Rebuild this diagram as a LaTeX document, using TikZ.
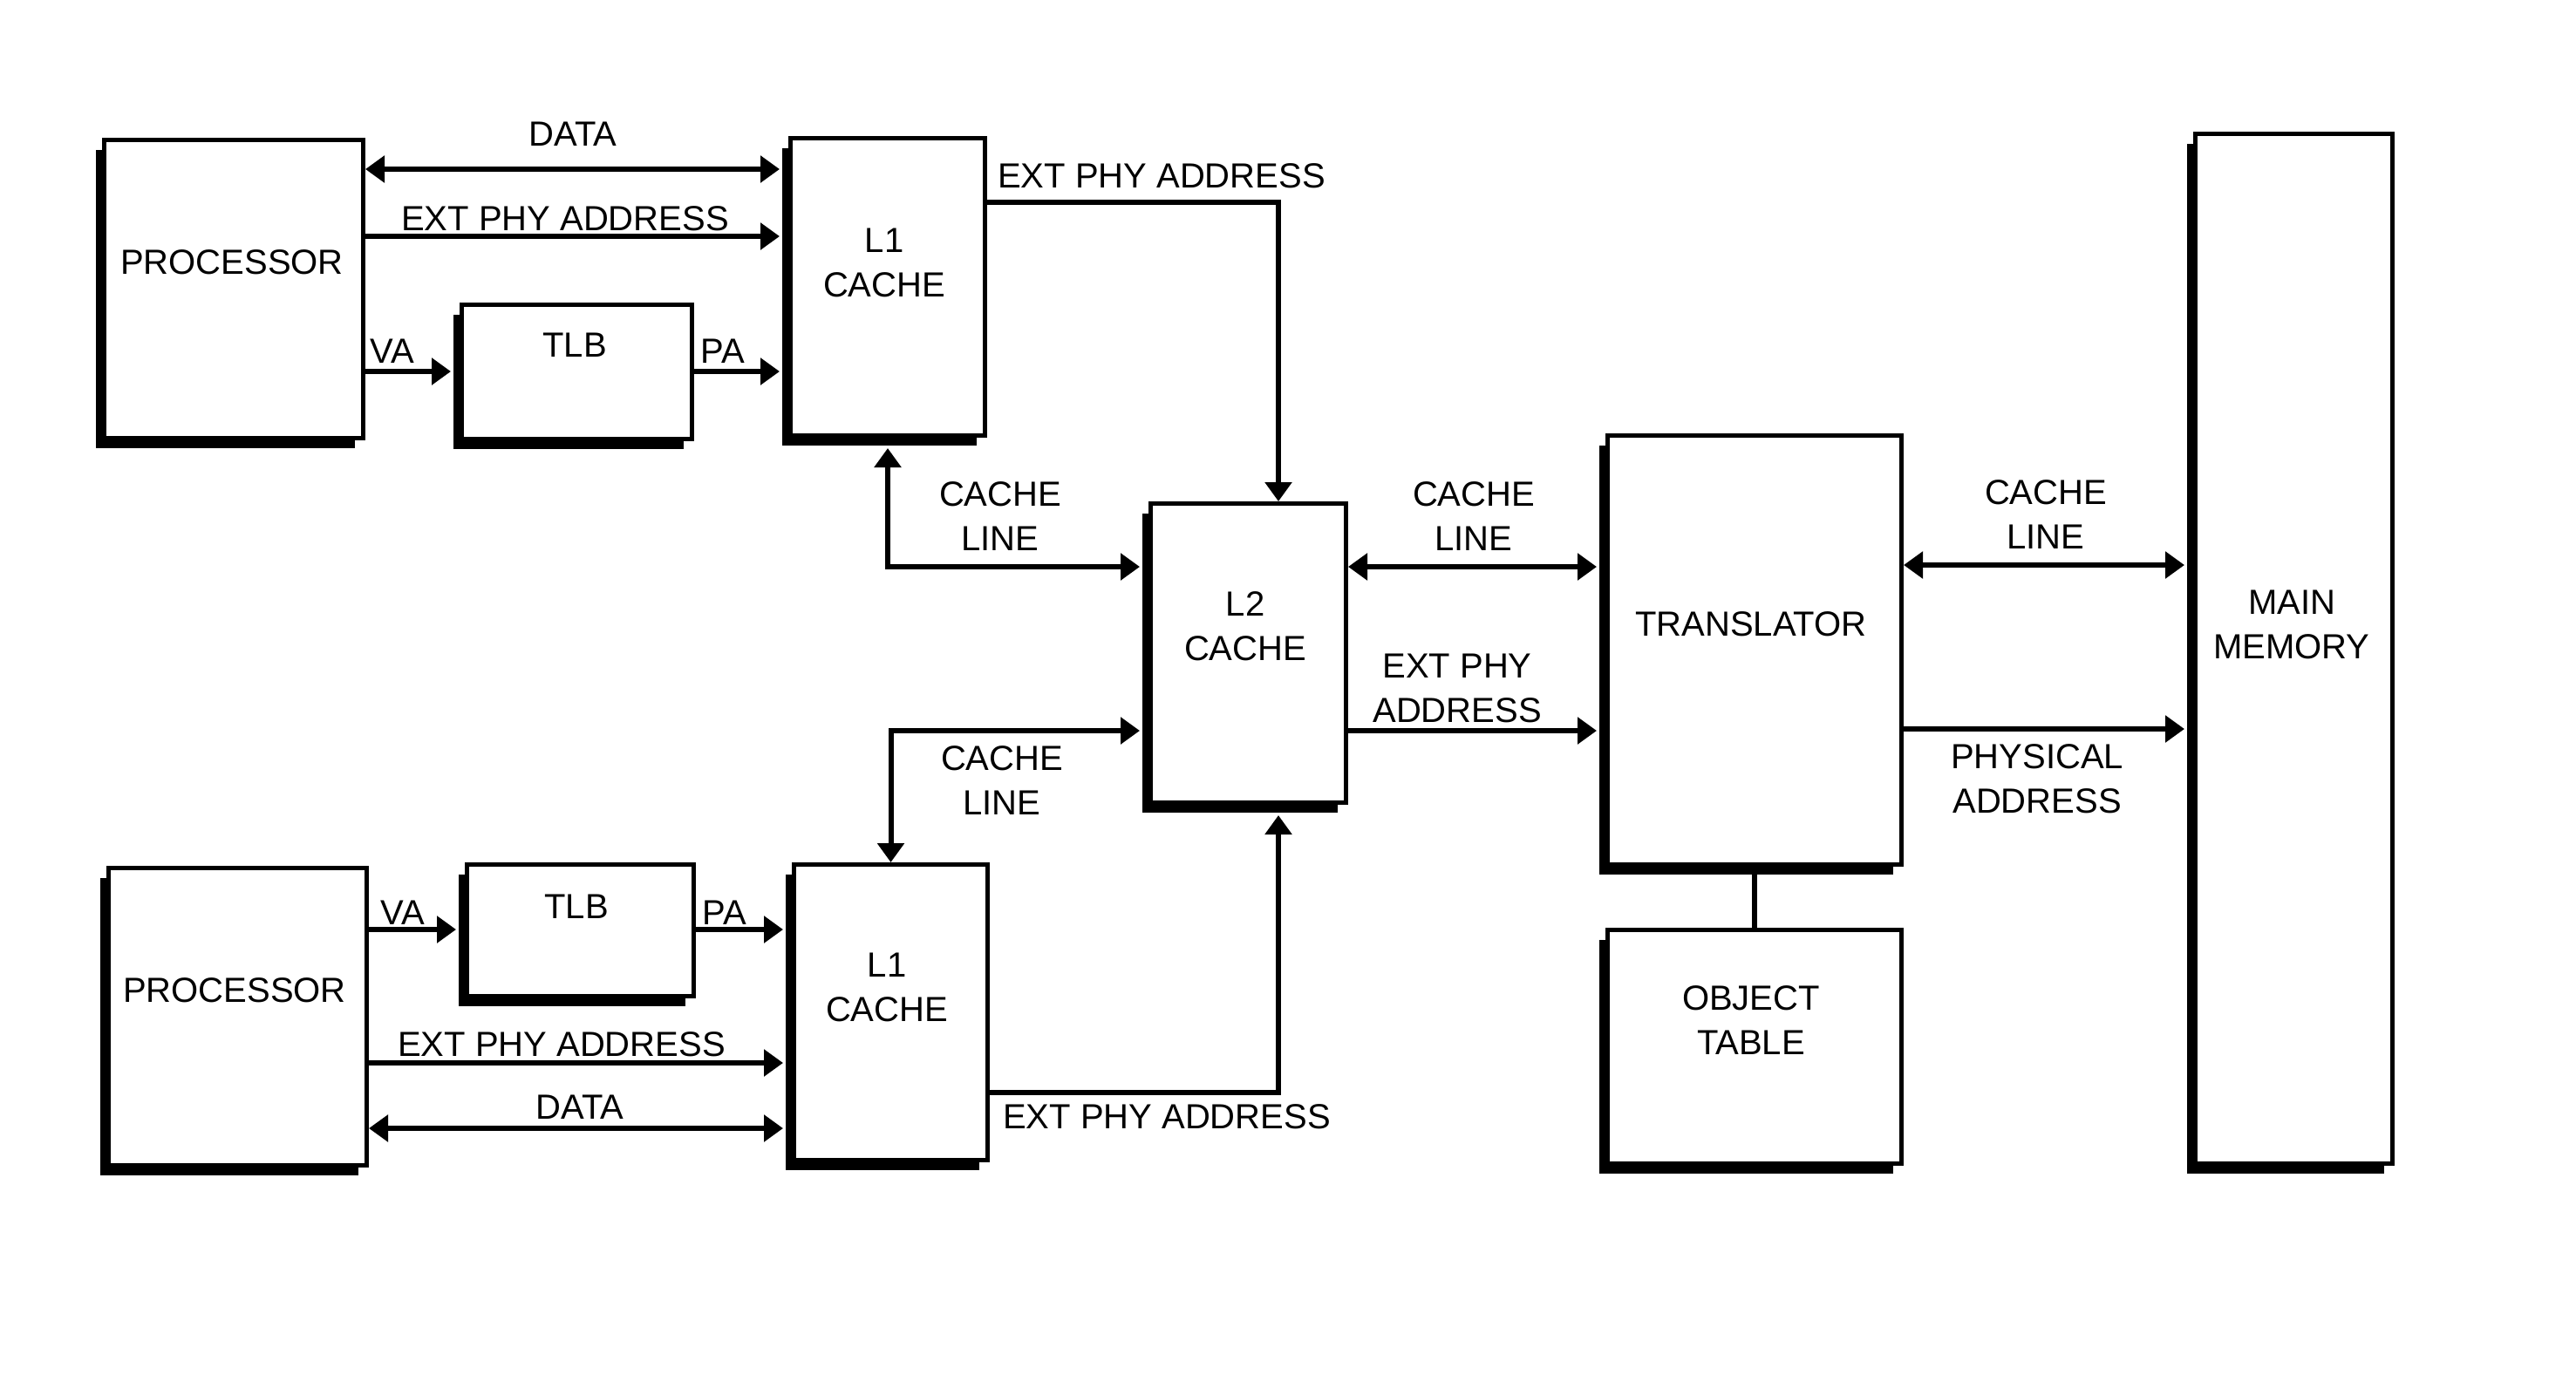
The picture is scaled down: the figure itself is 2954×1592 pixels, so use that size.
\documentclass[tikz,border=0pt]{standalone}
\usepackage{fontspec}
\setmainfont{Liberation Sans}
\usetikzlibrary{arrows.meta,shadows}
\begin{document}
\begin{tikzpicture}[x=0.5pt,y=-0.5pt,
  blk/.style={draw, line width=2.5pt, fill=white, inner sep=0pt, anchor=north west,
    drop shadow={shadow xshift=-5pt, shadow yshift=-5.5pt, fill=black, opacity=1}},
  lbl/.style={inner sep=0pt, align=center, font=\fontsize{20}{25.5}\selectfont},
  arr/.style={line width=3pt, -{Triangle[length=11pt,width=15pt]}},
  dbl/.style={line width=3pt, {Triangle[length=11pt,width=15pt]}-{Triangle[length=11pt,width=15pt]}},
  ln/.style={line width=3pt}]
\useasboundingbox (0,0) rectangle (2954,1592);
% blocks
\node[blk, minimum width=148.5pt, minimum height=171pt] (p1) at (117,158) {};
\node[blk, minimum width=132pt, minimum height=77pt] (tlb1) at (527,347) {};
\node[blk, minimum width=111.5pt, minimum height=170.5pt] (l1a) at (904,156) {};
\node[blk, minimum width=112pt, minimum height=171.5pt] (l2) at (1317,575) {};
\node[blk, minimum width=168.5pt, minimum height=246pt] (tr) at (1841,497) {};
\node[blk, minimum width=168.5pt, minimum height=134pt] (ot) at (1841,1064) {};
\node[blk, minimum width=113pt, minimum height=590.5pt] (mm) at (2515,151) {};
\node[blk, minimum width=148pt, minimum height=170.5pt] (p2) at (122,993) {};
\node[blk, minimum width=130pt, minimum height=75.5pt] (tlb2) at (533,989) {};
\node[blk, minimum width=111pt, minimum height=169.5pt] (l1b) at (908,989) {};
% block texts
\node[lbl] (p1t) at (266,301) {PROCESSOR};
\node[lbl] (tlb1t) at (659,396) {TLB};
\node[lbl] (l1at) at (1014,301) {L1\\CACHE};
\node[lbl] (l2t) at (1428,718) {L2\\CACHE};
\node[lbl] (trt) at (2008,716) {TRANSLATOR};
\node[lbl] (ott) at (2008,1170) {OBJECT\\TABLE};
\node[lbl] (mmt) at (2628,716) {MAIN\\MEMORY};
\node[lbl] (p2t) at (269,1136) {PROCESSOR};
\node[lbl] (tlb2t) at (661,1040) {TLB};
\node[lbl] (l1bt) at (1017,1132) {L1\\CACHE};
% upper processor connections
\draw[dbl, shorten >=5pt] (p1.east |- 0,194) -- (l1a.west |- 0,194);
\draw[arr, shorten >=5pt] (p1.east |- 0,271) -- (l1a.west |- 0,271);
\draw[arr, shorten >=5pt] (p1.east |- 0,426) -- (tlb1.west |- 0,426);
\draw[arr, shorten >=5pt] (tlb1.east |- 0,426) -- (l1a.west |- 0,426);
\draw[arr] (l1a.east |- 0,232) -| (1466,0 |- l2.north);
\draw[dbl, shorten <=6pt, shorten >=5pt] (l1a.south) |- (l2.west |- 0,650);
% lower processor connections
\draw[dbl, shorten <=5pt] (l2.west |- 0,838) -| (l1b.north);
\draw[arr, shorten >=6pt] (l1b.east |- 0,1253) -| (1466,0 |- l2.south);
\draw[arr, shorten >=5pt] (p2.east |- 0,1066) -- (tlb2.west |- 0,1066);
\draw[arr, shorten >=5pt] (tlb2.east |- 0,1066) -- (l1b.west |- 0,1066);
\draw[arr, shorten >=5pt] (p2.east |- 0,1219) -- (l1b.west |- 0,1219);
\draw[dbl, shorten >=5pt] (p2.east |- 0,1294) -- (l1b.west |- 0,1294);
% L2 - translator - memory
\draw[dbl, shorten >=5pt] (l2.east |- 0,650) -- (tr.west |- 0,650);
\draw[arr, shorten >=5pt] (l2.east |- 0,838) -- (tr.west |- 0,838);
\draw[dbl, shorten >=5pt] (tr.east |- 0,648) -- (mm.west |- 0,648);
\draw[arr, shorten >=5pt] (tr.east |- 0,836) -- (mm.west |- 0,836);
\draw[ln] (tr.south) -- (ot.north);
% connector labels
\node[lbl] (d1) at (657,154) {DATA};
\node[lbl] (e1) at (648,251) {EXT PHY ADDRESS};
\node[lbl] (va1) at (450,403) {VA};
\node[lbl] (pa1) at (829,403) {PA};
\node[lbl] (e1t) at (1332,202) {EXT PHY ADDRESS};
\node[lbl] (c1) at (1147,592) {CACHE\\LINE};
\node[lbl] (c2) at (1149,895) {CACHE\\LINE};
\node[lbl] (c3) at (1690,592) {CACHE\\LINE};
\node[lbl] (e3) at (1671,789) {EXT PHY\\ADDRESS};
\node[lbl] (c4) at (2346,590) {CACHE\\LINE};
\node[lbl] (pa3) at (2336,893) {PHYSICAL\\ADDRESS};
\node[lbl] (va2) at (462,1047) {VA};
\node[lbl] (pa2) at (831,1047) {PA};
\node[lbl] (e2) at (644,1198) {EXT PHY ADDRESS};
\node[lbl] (d2) at (665,1270) {DATA};
\node[lbl] (e2b) at (1338,1281) {EXT PHY ADDRESS};
\end{tikzpicture}
\end{document}
